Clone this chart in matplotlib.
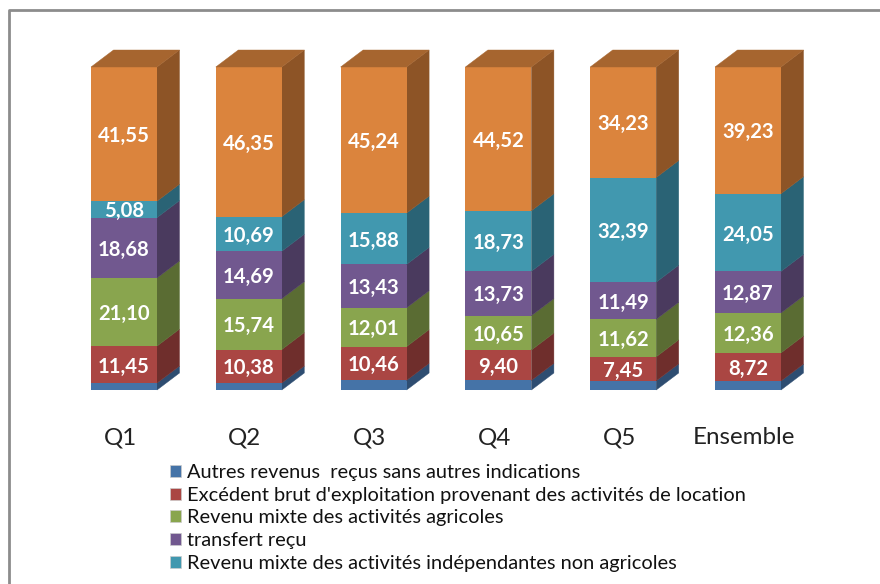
import matplotlib
matplotlib.use("Agg")
import matplotlib.pyplot as plt
from matplotlib.patches import Patch, Polygon

plt.rcParams["font.family"] = ["Lato", "DejaVu Sans"]

categories = ["Q1", "Q2", "Q3", "Q4", "Q5", "Ensemble"]
autres = [2.14, 2.15, 2.98, 2.97, 2.82, 2.77]
excedent = [11.45, 10.38, 10.46, 9.40, 7.45, 8.72]
agricoles = [21.10, 15.74, 12.01, 10.65, 11.62, 12.36]
transfert = [18.68, 14.69, 13.43, 13.73, 11.49, 12.87]
independantes = [5.08, 10.69, 15.88, 18.73, 32.39, 24.05]
salaires = [41.55, 46.35, 45.24, 44.52, 34.23, 39.23]

series = [autres, excedent, agricoles, transfert, independantes, salaires]
names = [
    "Autres revenus  reçus sans autres indications",
    "Excédent brut d'exploitation provenant des activités de location",
    "Revenu mixte des activités agricoles",
    "transfert reçu",
    "Revenu mixte des activités indépendantes non agricoles",
]
front = ["#4573A7", "#AA4643", "#89A54E", "#71588F", "#4198AF", "#DB843D"]
side = ["#2E4D71", "#6F2E2C", "#5A6C33", "#4A3A5E", "#2A6375", "#8D5426"]
top_col = "#A6652F"

W, H = 880, 584
X0, STEP = 124.0, 124.8   # pixel du centre de Q1, pas entre barres
Y0, PX = 390.0, 3.23      # pixel de la base, pixels par unité
BAR = 66 / STEP
DX, DY = 22.5 / STEP, 17 / PX

fig = plt.figure(figsize=(W / 100, H / 100), dpi=100)
ax = fig.add_axes([0, 0, 1, 1])
ax.set_xlim(-X0 / STEP, (W - X0) / STEP)
ax.set_ylim(-(H - Y0) / PX, Y0 / PX)
ax.axis("off")

for i, cat in enumerate(categories):
    x0 = i - BAR / 2
    x1 = i + BAR / 2
    bottom = 0.0
    for s, vals in enumerate(series):
        v = vals[i]
        y1 = bottom + v
        ax.add_patch(Polygon([(x1, bottom), (x1 + DX, bottom + DY), (x1 + DX, y1 + DY), (x1, y1)],
                             fc=side[s], ec=side[s], lw=0.3))
        ax.bar(i, v, BAR, bottom=bottom, color=front[s], lw=0)
        if s > 0:
            ax.text(i, bottom + v / 2 - 0.6, f"{v:.2f}".replace(".", ","), color="white",
                    fontsize=14.6, fontweight="bold", ha="center", va="center")
        bottom = y1
    ax.add_patch(Polygon([(x0, bottom), (x1, bottom), (x1 + DX, bottom + DY), (x0 + DX, bottom + DY)],
                         fc=top_col, ec=top_col, lw=0.3))
    ax.text(i - 4 / STEP, -14.8, cat, fontsize=17.4, color="#222222", ha="center", va="center")

handles = [Patch(fc=c, ec="#cccccc", lw=0.5) for c in front[:5]]
ax.legend(handles, names, loc="upper left", bbox_to_anchor=(166 / W, 1 - 460 / H), frameon=False,
          fontsize=14.4, handlelength=0.55, handleheight=0.55, handletextpad=0.3,
          labelspacing=0.285, labelcolor="#111111", borderpad=0.2, borderaxespad=0)

# cadre du graphique, coupé à droite et en bas
ax.plot([9 / W, 9 / W, 1], [0, 1 - 10 / H, 1 - 10 / H], transform=ax.transAxes,
        color="#8c8c8c", lw=2, clip_on=False)

fig.savefig("out.png", dpi=100)
